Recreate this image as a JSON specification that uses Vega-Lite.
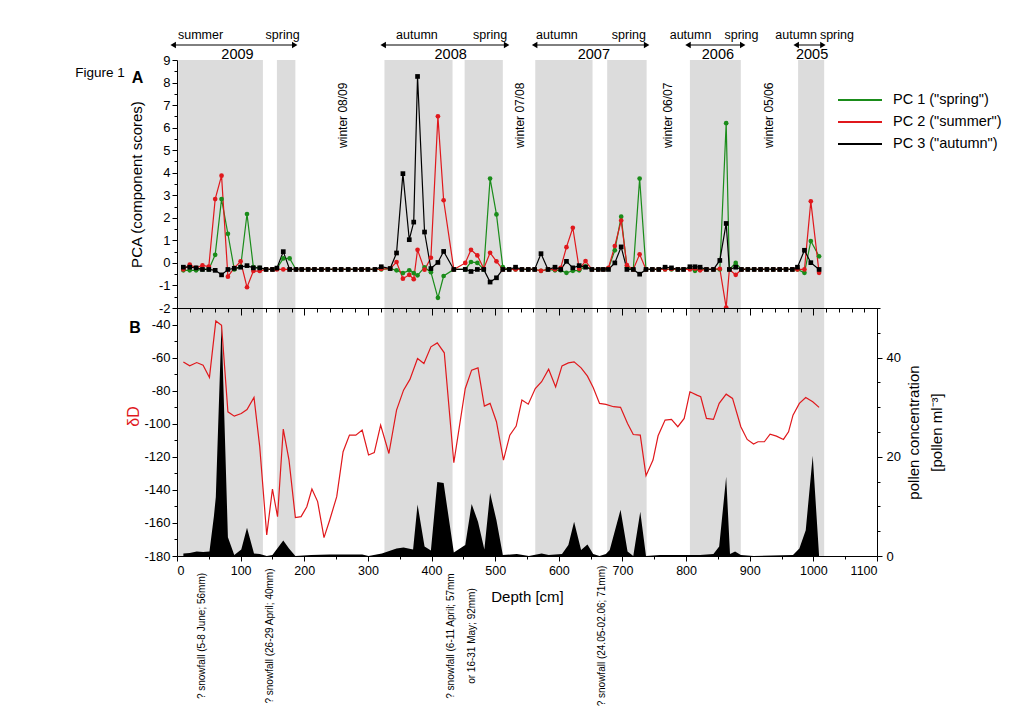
{
  "$schema": "https://vega.github.io/schema/vega-lite/v6.json",
  "padding": {"left": 75, "top": 29, "right": 5, "bottom": 5},
  "background": "white",
  "config": {
    "font": "Liberation Sans",
    "view": {"stroke": null},
    "axis": {"grid": false, "domainColor": "#000", "tickColor": "#000", "labelColor": "#000", "titleColor": "#000", "titleFontWeight": "normal", "labelFont": "Liberation Sans", "titleFont": "Liberation Sans", "domainWidth": 1, "tickWidth": 1},
    "text": {"font": "Liberation Sans", "color": "#000"},
    "legend": {"labelFont": "Liberation Sans", "labelColor": "#000"}
  },
  "spacing": 0,
  "bounds": "flush",
  "resolve": {"scale": {"color": "independent"}, "legend": {"color": "independent"}},
  "datasets": {
    "bands": [
      {"start": 2, "end": 135}, {"start": 157, "end": 186}, {"start": 326, "end": 433}, {"start": 452, "end": 512},
      {"start": 563, "end": 653}, {"start": 676, "end": 738}, {"start": 806, "end": 886}, {"start": 976, "end": 1017}
    ],
    "pca": [
      {"d": 10, "pc1": -0.33, "pc2": -0.29, "pc3": -0.19},
      {"d": 20, "pc1": -0.33, "pc2": -0.08, "pc3": -0.19},
      {"d": 30, "pc1": -0.33, "pc2": -0.22, "pc3": -0.22},
      {"d": 40, "pc1": -0.29, "pc2": -0.11, "pc3": -0.29},
      {"d": 50, "pc1": -0.29, "pc2": -0.16, "pc3": -0.29},
      {"d": 60, "pc1": 0.36, "pc2": 2.83, "pc3": -0.33},
      {"d": 70, "pc1": 2.83, "pc2": 3.87, "pc3": -0.53},
      {"d": 80, "pc1": 1.29, "pc2": -0.61, "pc3": -0.29},
      {"d": 90, "pc1": -0.29, "pc2": -0.22, "pc3": -0.24},
      {"d": 100, "pc1": -0.17, "pc2": 0.07, "pc3": -0.19},
      {"d": 110, "pc1": 2.17, "pc2": -1.08, "pc3": -0.12},
      {"d": 120, "pc1": -0.19, "pc2": -0.36, "pc3": -0.22},
      {"d": 130, "pc1": -0.22, "pc2": -0.36, "pc3": -0.22},
      {"d": 140, "pc1": -0.29, "pc2": -0.29, "pc3": -0.29},
      {"d": 150, "pc1": -0.29, "pc2": -0.29, "pc3": -0.29},
      {"d": 157, "pc1": -0.25, "pc2": -0.29, "pc3": -0.23},
      {"d": 167, "pc1": 0.2, "pc2": -0.29, "pc3": 0.5},
      {"d": 177, "pc1": 0.2, "pc2": -0.29, "pc3": -0.29},
      {"d": 187, "pc1": -0.29, "pc2": -0.29, "pc3": -0.29},
      {"d": 196, "pc1": -0.29, "pc2": -0.29, "pc3": -0.29},
      {"d": 206, "pc1": -0.29, "pc2": -0.29, "pc3": -0.29},
      {"d": 216, "pc1": -0.29, "pc2": -0.29, "pc3": -0.29},
      {"d": 227, "pc1": -0.29, "pc2": -0.29, "pc3": -0.29},
      {"d": 237, "pc1": -0.29, "pc2": -0.29, "pc3": -0.29},
      {"d": 248, "pc1": -0.29, "pc2": -0.29, "pc3": -0.29},
      {"d": 258, "pc1": -0.29, "pc2": -0.29, "pc3": -0.29},
      {"d": 269, "pc1": -0.29, "pc2": -0.29, "pc3": -0.29},
      {"d": 280, "pc1": -0.29, "pc2": -0.29, "pc3": -0.29},
      {"d": 290, "pc1": -0.29, "pc2": -0.29, "pc3": -0.29},
      {"d": 300, "pc1": -0.29, "pc2": -0.29, "pc3": -0.29},
      {"d": 311, "pc1": -0.29, "pc2": -0.29, "pc3": -0.29},
      {"d": 321, "pc1": -0.29, "pc2": -0.27, "pc3": -0.17},
      {"d": 335, "pc1": -0.25, "pc2": -0.25, "pc3": -0.25},
      {"d": 345, "pc1": -0.33, "pc2": 0.04, "pc3": 0.44},
      {"d": 355, "pc1": -0.45, "pc2": -0.7, "pc3": 3.96},
      {"d": 365, "pc1": -0.33, "pc2": -0.53, "pc3": 1.03},
      {"d": 372, "pc1": -0.45, "pc2": -0.72, "pc3": 1.81},
      {"d": 378, "pc1": -0.55, "pc2": 0.58, "pc3": 8.27},
      {"d": 389, "pc1": -0.2, "pc2": -0.3, "pc3": 1.37},
      {"d": 399, "pc1": -0.41, "pc2": 0.23, "pc3": -0.25},
      {"d": 410, "pc1": -1.55, "pc2": 6.5, "pc3": 0.02},
      {"d": 419, "pc1": -0.58, "pc2": 2.78, "pc3": 0.51},
      {"d": 435, "pc1": -0.29, "pc2": -0.29, "pc3": -0.29},
      {"d": 453, "pc1": -0.29, "pc2": 0.0, "pc3": -0.29},
      {"d": 462, "pc1": 0.04, "pc2": 0.58, "pc3": -0.38},
      {"d": 472, "pc1": 0.0, "pc2": 0.33, "pc3": -0.29},
      {"d": 482, "pc1": -0.29, "pc2": -0.25, "pc3": -0.29},
      {"d": 492, "pc1": 3.74, "pc2": 0.45, "pc3": -0.85},
      {"d": 502, "pc1": 2.15, "pc2": 0.07, "pc3": -0.66},
      {"d": 512, "pc1": -0.19, "pc2": -0.29, "pc3": -0.29},
      {"d": 522, "pc1": -0.29, "pc2": -0.29, "pc3": -0.29},
      {"d": 532, "pc1": -0.29, "pc2": -0.29, "pc3": -0.19},
      {"d": 542, "pc1": -0.29, "pc2": -0.29, "pc3": -0.29},
      {"d": 552, "pc1": -0.29, "pc2": -0.29, "pc3": -0.29},
      {"d": 562, "pc1": -0.29, "pc2": -0.29, "pc3": -0.29},
      {"d": 572, "pc1": -0.35, "pc2": -0.35, "pc3": 0.41},
      {"d": 583, "pc1": -0.29, "pc2": -0.29, "pc3": -0.29},
      {"d": 594, "pc1": -0.33, "pc2": -0.29, "pc3": -0.19},
      {"d": 603, "pc1": -0.33, "pc2": -0.22, "pc3": -0.29},
      {"d": 612, "pc1": -0.44, "pc2": 0.7, "pc3": 0.07},
      {"d": 622, "pc1": -0.35, "pc2": 1.56, "pc3": -0.22},
      {"d": 632, "pc1": -0.33, "pc2": -0.26, "pc3": -0.12},
      {"d": 642, "pc1": -0.15, "pc2": 0.08, "pc3": -0.19},
      {"d": 652, "pc1": -0.29, "pc2": -0.29, "pc3": -0.29},
      {"d": 662, "pc1": -0.29, "pc2": -0.29, "pc3": -0.29},
      {"d": 670, "pc1": -0.29, "pc2": -0.29, "pc3": -0.29},
      {"d": 678, "pc1": -0.25, "pc2": -0.22, "pc3": -0.29},
      {"d": 688, "pc1": 0.56, "pc2": 0.75, "pc3": 0.0},
      {"d": 698, "pc1": 2.05, "pc2": 1.88, "pc3": 0.71},
      {"d": 707, "pc1": -0.2, "pc2": -0.1, "pc3": -0.29},
      {"d": 717, "pc1": -0.29, "pc2": -0.29, "pc3": -0.29},
      {"d": 727, "pc1": 3.74, "pc2": 0.38, "pc3": -0.5},
      {"d": 737, "pc1": -0.29, "pc2": -0.29, "pc3": -0.29},
      {"d": 747, "pc1": -0.29, "pc2": -0.29, "pc3": -0.29},
      {"d": 757, "pc1": -0.29, "pc2": -0.29, "pc3": -0.29},
      {"d": 767, "pc1": -0.29, "pc2": -0.29, "pc3": -0.19},
      {"d": 777, "pc1": -0.29, "pc2": -0.27, "pc3": -0.22},
      {"d": 787, "pc1": -0.29, "pc2": -0.29, "pc3": -0.29},
      {"d": 796, "pc1": -0.29, "pc2": -0.29, "pc3": -0.29},
      {"d": 806, "pc1": -0.25, "pc2": -0.29, "pc3": -0.17},
      {"d": 814, "pc1": -0.35, "pc2": -0.25, "pc3": -0.17},
      {"d": 822, "pc1": -0.29, "pc2": -0.33, "pc3": -0.19},
      {"d": 832, "pc1": -0.29, "pc2": -0.29, "pc3": -0.29},
      {"d": 843, "pc1": -0.29, "pc2": -0.29, "pc3": -0.29},
      {"d": 853, "pc1": -0.29, "pc2": -0.26, "pc3": 0.11},
      {"d": 863, "pc1": 6.2, "pc2": -1.98, "pc3": 1.75},
      {"d": 868, "pc1": -0.29, "pc2": -0.29, "pc3": -0.29},
      {"d": 878, "pc1": 0.0, "pc2": -0.53, "pc3": -0.19},
      {"d": 887, "pc1": -0.29, "pc2": -0.29, "pc3": -0.29},
      {"d": 897, "pc1": -0.29, "pc2": -0.29, "pc3": -0.29},
      {"d": 907, "pc1": -0.29, "pc2": -0.29, "pc3": -0.29},
      {"d": 917, "pc1": -0.29, "pc2": -0.29, "pc3": -0.29},
      {"d": 927, "pc1": -0.29, "pc2": -0.29, "pc3": -0.29},
      {"d": 937, "pc1": -0.29, "pc2": -0.29, "pc3": -0.29},
      {"d": 947, "pc1": -0.29, "pc2": -0.29, "pc3": -0.29},
      {"d": 957, "pc1": -0.29, "pc2": -0.29, "pc3": -0.29},
      {"d": 967, "pc1": -0.29, "pc2": -0.29, "pc3": -0.29},
      {"d": 975, "pc1": -0.29, "pc2": -0.29, "pc3": -0.19},
      {"d": 986, "pc1": -0.44, "pc2": -0.29, "pc3": 0.56},
      {"d": 996, "pc1": 0.97, "pc2": 2.73, "pc3": 0.01},
      {"d": 1009, "pc1": 0.29, "pc2": -0.44, "pc3": -0.29}
    ],
    "dD": [
      {"d": 10, "v": -62.6}, {"d": 20, "v": -65}, {"d": 31, "v": -63}, {"d": 41, "v": -64.6}, {"d": 51, "v": -72},
      {"d": 61, "v": -37.8}, {"d": 70, "v": -40.4}, {"d": 80, "v": -92.8}, {"d": 90, "v": -95.4}, {"d": 101, "v": -93.8},
      {"d": 110, "v": -91.4}, {"d": 121, "v": -84.1}, {"d": 130, "v": -113.9}, {"d": 141, "v": -167.3}, {"d": 150, "v": -139.5},
      {"d": 158, "v": -156.2}, {"d": 167, "v": -103.2}, {"d": 176, "v": -122}, {"d": 186, "v": -156.8}, {"d": 195, "v": -156.2},
      {"d": 204, "v": -150.2}, {"d": 212, "v": -139.5}, {"d": 221, "v": -147.1}, {"d": 231, "v": -168.9}, {"d": 240, "v": -158.2},
      {"d": 251, "v": -144.1}, {"d": 261, "v": -116.9}, {"d": 271, "v": -106.9}, {"d": 281, "v": -106.9}, {"d": 291, "v": -103.8},
      {"d": 301, "v": -118.9}, {"d": 310, "v": -117.5}, {"d": 320, "v": -100.8}, {"d": 333, "v": -118}, {"d": 345, "v": -91.8},
      {"d": 356, "v": -79.7}, {"d": 366, "v": -73.2}, {"d": 378, "v": -60.5}, {"d": 388, "v": -63.6}, {"d": 399, "v": -53.5},
      {"d": 409, "v": -51.1}, {"d": 420, "v": -57.1}, {"d": 435, "v": -123.6}, {"d": 453, "v": -78.7}, {"d": 463, "v": -67.6},
      {"d": 473, "v": -66.2}, {"d": 483, "v": -89.3}, {"d": 492, "v": -87.7}, {"d": 502, "v": -98.8}, {"d": 513, "v": -122},
      {"d": 523, "v": -106.9}, {"d": 533, "v": -101.4}, {"d": 542, "v": -85.7}, {"d": 552, "v": -88.2}, {"d": 563, "v": -78.7},
      {"d": 573, "v": -74.6}, {"d": 584, "v": -67}, {"d": 595, "v": -77.7}, {"d": 605, "v": -65}, {"d": 615, "v": -63.2},
      {"d": 624, "v": -62.6}, {"d": 635, "v": -66.2}, {"d": 645, "v": -71.2}, {"d": 654, "v": -78.1}, {"d": 664, "v": -87.7},
      {"d": 674, "v": -88.3}, {"d": 686, "v": -89.7}, {"d": 697, "v": -90.1}, {"d": 708, "v": -99.8}, {"d": 717, "v": -106.5},
      {"d": 728, "v": -106.9}, {"d": 737, "v": -131.4}, {"d": 748, "v": -122}, {"d": 756, "v": -107.3}, {"d": 767, "v": -97.8},
      {"d": 777, "v": -97.4}, {"d": 787, "v": -101.8}, {"d": 797, "v": -96.8}, {"d": 806, "v": -80.7}, {"d": 817, "v": -82.7},
      {"d": 823, "v": -83.7}, {"d": 832, "v": -96.8}, {"d": 843, "v": -97.4}, {"d": 852, "v": -87.7}, {"d": 863, "v": -82.1},
      {"d": 873, "v": -84.7}, {"d": 886, "v": -101.8}, {"d": 896, "v": -109.5}, {"d": 906, "v": -112.3}, {"d": 913, "v": -110.9},
      {"d": 923, "v": -110.9}, {"d": 932, "v": -106.3}, {"d": 942, "v": -107.5}, {"d": 953, "v": -109.5}, {"d": 961, "v": -104.9},
      {"d": 968, "v": -94.8}, {"d": 978, "v": -87.7}, {"d": 988, "v": -84.1}, {"d": 999, "v": -86.7}, {"d": 1009, "v": -90.1}
    ],
    "pollen": [
      {"d": 10, "c": 0.5}, {"d": 20, "c": 0.6}, {"d": 31, "c": 0.9}, {"d": 41, "c": 0.8}, {"d": 51, "c": 0.9},
      {"d": 58, "c": 8}, {"d": 61, "c": 11.9}, {"d": 70, "c": 46.9}, {"d": 80, "c": 3.8}, {"d": 90, "c": 0.2},
      {"d": 101, "c": 1.3}, {"d": 110, "c": 5.7}, {"d": 121, "c": 0.5}, {"d": 130, "c": 0.4}, {"d": 141, "c": 0},
      {"d": 150, "c": 0.2}, {"d": 167, "c": 3.1}, {"d": 176, "c": 1.5}, {"d": 186, "c": 0}, {"d": 211, "c": 0.2},
      {"d": 240, "c": 0.3}, {"d": 291, "c": 0.3}, {"d": 301, "c": 0}, {"d": 322, "c": 0.5}, {"d": 345, "c": 1.5},
      {"d": 356, "c": 1.7}, {"d": 371, "c": 1.3}, {"d": 378, "c": 10.4}, {"d": 389, "c": 1.9}, {"d": 399, "c": 1.1},
      {"d": 409, "c": 14.9}, {"d": 419, "c": 14.7}, {"d": 435, "c": 0.7}, {"d": 453, "c": 2.2}, {"d": 463, "c": 10.5},
      {"d": 473, "c": 6.9}, {"d": 483, "c": 1.3}, {"d": 492, "c": 12.7}, {"d": 502, "c": 7.2}, {"d": 512, "c": 0.2},
      {"d": 534, "c": 0.4}, {"d": 553, "c": 0}, {"d": 573, "c": 0.5}, {"d": 584, "c": 0.2}, {"d": 605, "c": 0.4},
      {"d": 615, "c": 2.2}, {"d": 624, "c": 6.9}, {"d": 635, "c": 1.2}, {"d": 645, "c": 2.3}, {"d": 654, "c": 0.4},
      {"d": 664, "c": 0}, {"d": 674, "c": 0.4}, {"d": 680, "c": 1.2}, {"d": 697, "c": 9.3}, {"d": 708, "c": 0.9},
      {"d": 717, "c": 0}, {"d": 728, "c": 8.9}, {"d": 737, "c": 0}, {"d": 759, "c": 0.2}, {"d": 822, "c": 0.2},
      {"d": 843, "c": 0.4}, {"d": 852, "c": 1.9}, {"d": 863, "c": 16}, {"d": 869, "c": 0.4}, {"d": 877, "c": 0.9},
      {"d": 886, "c": 0.2}, {"d": 906, "c": 0}, {"d": 968, "c": 0.2}, {"d": 978, "c": 1.5}, {"d": 988, "c": 5.2},
      {"d": 999, "c": 20.2}, {"d": 1009, "c": 0}
    ],
    "arrows": [
      {"year": "2009", "from": -6, "to": 185}, {"year": "2008", "from": 324, "to": 518},
      {"year": "2007", "from": 562, "to": 738}, {"year": "2006", "from": 803, "to": 889},
      {"year": "2005", "from": 973, "to": 1015}
    ],
    "seasons": [
      {"season": "summer", "depth": 37}, {"season": "spring", "depth": 166},
      {"season": "autumn", "depth": 377}, {"season": "spring", "depth": 492},
      {"season": "autumn", "depth": 597}, {"season": "spring", "depth": 710},
      {"season": "autumn", "depth": 807}, {"season": "spring", "depth": 887},
      {"season": "autumn", "depth": 973}, {"season": "spring", "depth": 1037}
    ],
    "years": [
      {"year": "2009", "depth": 95}, {"year": "2008", "depth": 430}, {"year": "2007", "depth": 655},
      {"year": "2006", "depth": 850}, {"year": "2005", "depth": 998}
    ],
    "winters": [
      {"label": "winter 08/09", "depth": 261}, {"label": "winter 07/08", "depth": 539},
      {"label": "winter 06/07", "depth": 772}, {"label": "winter 05/06", "depth": 931}
    ],
    "snow": [
      {"label": "? snowfall (5-8 June; 56mm)", "depth": 39},
      {"label": "? snowfall (26-29 April; 40mm)", "depth": 146},
      {"label": "? snowfall (6-11 April; 57mm", "depth": 430},
      {"label": "or 16-31 May; 92mm)", "depth": 463},
      {"label": "? snowfall (24.05-02.06; 71mm)", "depth": 668}
    ]
  },
  "vconcat": [
    {
      "width": 700,
      "height": 248,
      "resolve": {"axis": {"x": "independent", "y": "independent"}},
      "layer": [
        {
          "data": {"name": "bands"},
          "mark": {"type": "rect", "color": "#dcdcdc"},
          "encoding": {
            "x": {"field": "start", "type": "quantitative", "scale": {"domain": [0, 1100], "nice": false, "zero": false}, "axis": null},
            "x2": {"field": "end"}
          }
        },
        {
          "data": {"name": "pca"},
          "transform": [{"fold": ["pc1", "pc2", "pc3"], "as": ["series", "score"]}],
          "mark": {"type": "line", "strokeWidth": 1.2},
          "encoding": {
            "x": {"field": "d", "type": "quantitative", "scale": {"domain": [0, 1100], "nice": false, "zero": false}, "axis": null},
            "y": {"field": "score", "type": "quantitative", "scale": {"domain": [-2, 9], "nice": false, "zero": false},
              "axis": {"values": [-2,-1.5,-1,-0.5,0,0.5,1,1.5,2,2.5,3,3.5,4,4.5,5,5.5,6,6.5,7,7.5,8,8.5,9],
                "labelExpr": "datum.value % 1 === 0 ? '' + datum.value : ''", "labelOverlap": false,
                "labelFontSize": {"condition": {"test": "datum.value % 1 === 0", "value": 13}, "value": 1},
                "tickSize": {"condition": {"test": "datum.value % 1 === 0", "value": 5}, "value": 3},
                "labelPadding": 2, "title": "PCA (component scores)", "titleFontSize": 15, "titlePadding": 14}},
            "color": {"field": "series", "type": "nominal",
              "scale": {"domain": ["pc1", "pc2", "pc3"], "range": ["#1a8c1a", "#e0181c", "#000000"]},
              "legend": {"orient": "none", "legendX": 671, "legendY": 28, "title": null, "symbolType": "M-2,0H2", "symbolSize": 484, "symbolStrokeWidth": 2, "labelFontSize": 14.5, "labelOffset": 21, "rowPadding": 3,
                "labelExpr": "datum.value == 'pc1' ? 'PC 1 (\"spring\")' : datum.value == 'pc2' ? 'PC 2 (\"summer\")' : 'PC 3 (\"autumn\")'"}}
          }
        },
        {
          "data": {"name": "pca"},
          "transform": [{"fold": ["pc1", "pc2", "pc3"], "as": ["series", "score"]}],
          "mark": {"type": "point", "filled": true, "size": 22, "opacity": 1},
          "encoding": {
            "x": {"field": "d", "type": "quantitative", "scale": {"domain": [0, 1100], "nice": false, "zero": false}, "axis": null},
            "y": {"field": "score", "type": "quantitative", "scale": {"domain": [-2, 9], "nice": false, "zero": false}, "axis": null},
            "color": {"field": "series", "type": "nominal", "scale": {"domain": ["pc1", "pc2", "pc3"], "range": ["#1a8c1a", "#e0181c", "#000000"]}, "legend": null},
            "shape": {"field": "series", "type": "nominal", "scale": {"domain": ["pc1", "pc2", "pc3"], "range": ["circle", "circle", "square"]}, "legend": null}
          }
        },
        {
          "data": {"name": "arrows"},
          "mark": {"type": "rule", "color": "#000", "strokeWidth": 1},
          "encoding": {
            "x": {"field": "from", "type": "quantitative", "scale": {"domain": [0, 1100], "nice": false, "zero": false}, "axis": null},
            "x2": {"field": "to"},
            "y": {"datum": 9.665, "type": "quantitative", "scale": {"domain": [-2, 9], "nice": false, "zero": false}, "axis": null}
          }
        },
        {
          "data": {"name": "arrows"},
          "mark": {"type": "point", "shape": "triangle-left", "filled": true, "color": "#000", "size": 40, "opacity": 1},
          "encoding": {
            "x": {"field": "from", "type": "quantitative", "scale": {"domain": [0, 1100], "nice": false, "zero": false}, "axis": null},
            "y": {"datum": 9.665, "type": "quantitative", "scale": {"domain": [-2, 9], "nice": false, "zero": false}, "axis": null}
          }
        },
        {
          "data": {"name": "arrows"},
          "mark": {"type": "point", "shape": "triangle-right", "filled": true, "color": "#000", "size": 40, "opacity": 1},
          "encoding": {
            "x": {"field": "to", "type": "quantitative", "scale": {"domain": [0, 1100], "nice": false, "zero": false}, "axis": null},
            "y": {"datum": 9.665, "type": "quantitative", "scale": {"domain": [-2, 9], "nice": false, "zero": false}, "axis": null}
          }
        },
        {
          "data": {"name": "seasons"},
          "mark": {"type": "text", "fontSize": 12.5, "baseline": "alphabetic", "align": "center"},
          "encoding": {
            "x": {"field": "depth", "type": "quantitative", "scale": {"domain": [0, 1100], "nice": false, "zero": false}, "axis": null},
            "y": {"datum": 9.93, "type": "quantitative", "scale": {"domain": [-2, 9], "nice": false, "zero": false}, "axis": null},
            "text": {"field": "season"}
          }
        },
        {
          "data": {"name": "years"},
          "mark": {"type": "text", "fontSize": 14.5, "baseline": "alphabetic", "align": "center"},
          "encoding": {
            "x": {"field": "depth", "type": "quantitative", "scale": {"domain": [0, 1100], "nice": false, "zero": false}, "axis": null},
            "y": {"datum": 9.03, "type": "quantitative", "scale": {"domain": [-2, 9], "nice": false, "zero": false}, "axis": null},
            "text": {"field": "year"}
          }
        },
        {
          "data": {"name": "winters"},
          "mark": {"type": "text", "fontSize": 12, "baseline": "middle", "align": "center", "angle": 270},
          "encoding": {
            "x": {"field": "depth", "type": "quantitative", "scale": {"domain": [0, 1100], "nice": false, "zero": false}, "axis": null},
            "y": {"datum": 6.55, "type": "quantitative", "scale": {"domain": [-2, 9], "nice": false, "zero": false}, "axis": null},
            "text": {"field": "label"}
          }
        },
        {
          "data": {"values": [{"label": "Figure 1"}]},
          "mark": {"type": "text", "fontSize": 13.5, "baseline": "middle", "align": "left"},
          "encoding": {
            "x": {"datum": -160, "type": "quantitative", "scale": {"domain": [0, 1100], "nice": false, "zero": false}, "axis": null},
            "y": {"datum": 8.42, "type": "quantitative", "scale": {"domain": [-2, 9], "nice": false, "zero": false}, "axis": null},
            "text": {"field": "label"}
          }
        },
        {
          "data": {"values": [{"label": "A"}]},
          "mark": {"type": "text", "fontSize": 16, "fontWeight": "bold", "baseline": "middle", "align": "center"},
          "encoding": {
            "x": {"datum": -62, "type": "quantitative", "scale": {"domain": [0, 1100], "nice": false, "zero": false}, "axis": null},
            "y": {"datum": 8.2, "type": "quantitative", "scale": {"domain": [-2, 9], "nice": false, "zero": false}, "axis": null},
            "text": {"field": "label"}
          }
        }
      ]
    },
    {
      "width": 700,
      "height": 248,
      "resolve": {"scale": {"y": "independent"}, "axis": {"x": "independent"}},
      "layer": [
        {
          "data": {"name": "bands"},
          "mark": {"type": "rect", "color": "#dcdcdc"},
          "encoding": {
            "x": {"field": "start", "type": "quantitative", "scale": {"domain": [0, 1100], "nice": false, "zero": false},
              "axis": {"orient": "top", "values": [0,20,40,60,80,100,120,140,160,180,200,220,240,260,280,300,320,340,360,380,400,420,440,460,480,500,520,540,560,580,600,620,640,660,680,700,720,740,760,780,800,820,840,860,880,900,920,940,960,980,1000,1020,1040,1060,1080,1100],
                "labels": false, "title": null,
                "tickSize": {"condition": {"test": "datum.value % 100 === 0", "value": -7}, "value": -4}, "zindex": 1}},
            "x2": {"field": "end"}
          }
        },
        {
          "data": {"name": "pollen"},
          "mark": {"type": "area", "color": "#000", "interpolate": "linear", "opacity": 1},
          "encoding": {
            "x": {"field": "d", "type": "quantitative", "scale": {"domain": [0, 1100], "nice": false, "zero": false},
              "axis": {"orient": "bottom", "values": [0,50,100,150,200,250,300,350,400,450,500,550,600,650,700,750,800,850,900,950,1000,1050,1100],
                "labelExpr": "datum.value % 100 === 0 ? '' + datum.value : ''", "labelOverlap": false,
                "tickSize": {"condition": {"test": "datum.value % 100 === 0", "value": 5}, "value": 3},
                "labelFontSize": 12.5, "labelPadding": 3, "title": "Depth [cm]", "titleFontSize": 15, "titlePadding": 13}},
            "y": {"field": "c", "type": "quantitative", "scale": {"domain": [0, 50], "nice": false, "zero": false},
              "axis": {"orient": "right", "values": [0,5,10,15,20,25,30,35,40,45,50],
                "labelExpr": "datum.value % 20 === 0 ? '' + datum.value : ''", "labelOverlap": false,
                "tickSize": {"condition": {"test": "datum.value % 20 === 0", "value": 5}, "value": 3},
                "labelFontSize": 13, "labelPadding": 4,
                "title": ["pollen concentration", "[pollen ml⁻³]"], "titleAngle": 270, "titleFontSize": 15, "titlePadding": -2, "titleLineHeight": 23}}
          }
        },
        {
          "data": {"name": "dD"},
          "mark": {"type": "line", "color": "#e0181c", "strokeWidth": 1.2},
          "encoding": {
            "x": {"field": "d", "type": "quantitative", "scale": {"domain": [0, 1100], "nice": false, "zero": false}, "axis": null},
            "y": {"field": "v", "type": "quantitative", "scale": {"domain": [-180, -30], "nice": false, "zero": false},
              "axis": {"orient": "left", "values": [-180,-170,-160,-150,-140,-130,-120,-110,-100,-90,-80,-70,-60,-50,-40,-30],
                "labelExpr": "datum.value % 20 === 0 && datum.value <= -40 ? '' + datum.value : ''", "labelOverlap": false,
                "tickSize": {"condition": {"test": "datum.value % 20 === 0", "value": 5}, "value": 3},
                "labelFontSize": 13, "labelPadding": 2, "title": "δD", "titleColor": "#e0181c", "titleFontSize": 16, "titlePadding": 2, "titleY": 108}}
          }
        },
        {
          "data": {"name": "snow"},
          "mark": {"type": "text", "fontSize": 10, "baseline": "middle", "align": "center", "angle": 270},
          "encoding": {
            "x": {"field": "depth", "type": "quantitative", "scale": {"domain": [0, 1100], "nice": false, "zero": false}, "axis": null},
            "y": {"datum": -228.4, "type": "quantitative", "scale": {"domain": [-180, -30], "nice": false, "zero": false}, "axis": null},
            "text": {"field": "label"}
          }
        },
        {
          "data": {"values": [{"label": "B"}]},
          "mark": {"type": "text", "fontSize": 16, "fontWeight": "bold", "baseline": "middle", "align": "center"},
          "encoding": {
            "x": {"datum": -66, "type": "quantitative", "scale": {"domain": [0, 1100], "nice": false, "zero": false}, "axis": null},
            "y": {"datum": -42.1, "type": "quantitative", "scale": {"domain": [-180, -30], "nice": false, "zero": false}, "axis": null},
            "text": {"field": "label"}
          }
        }
      ]
    }
  ]
}
